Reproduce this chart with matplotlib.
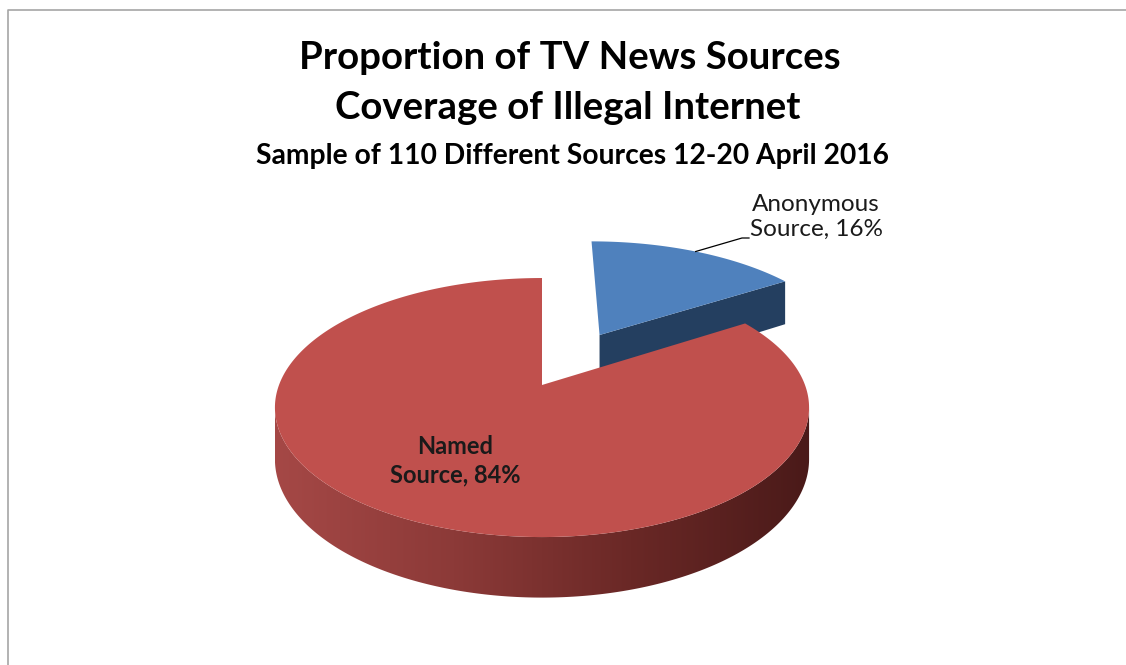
import matplotlib.pyplot as plt
import numpy as np
from matplotlib.patches import Polygon
from matplotlib.colors import LinearSegmentedColormap

plt.rcParams['font.family'] = ['Lato', 'DejaVu Sans']

# data
slice_names = ['Anonymous\nSource', 'Named\nSource']
slice_values = [16, 84]
slice_explode = [0.488, 0.0]
top_colors = ['#4F81BD', '#C0504D']
cut_colors = ['#243F60', '#7A2E2C']
side_ramp = ['#A54846', '#8C3A38', '#6A2826', '#4A1A19']

title_lines = ['Proportion of TV News Sources', 'Coverage of Illegal Internet']
subtitle = 'Sample of 110 Different Sources 12-20 April 2016'

# disc placement on the page (pixels) with a little perspective
cx, cy = 542, 385
A, B = 263, 125.6
k = 0.174
D = 50


def proj(u, v, drop=0.0):
    w = 1 + k * v
    return cx + A * u / w, cy - B * v / w + drop / w


fig = plt.figure(figsize=(11.26, 6.65), dpi=100)
ax = fig.add_axes([0, 0, 1, 1])
ax.set_axis_off()

# start at 12 o'clock and go clockwise
total = float(sum(slice_values))
bounds = []
end = 90.0
for val in slice_values:
    start = end - 360.0 * val / total
    bounds.append((start, end))
    end = start

# angles where the rim turns from front to back (silhouette)
tt = np.radians(np.linspace(0, 360, 3601))
xs, _ = proj(np.cos(tt), np.sin(tt))
deg = np.degrees(tt)
left_mask = (deg > 90) & (deg < 270)
th_left = deg[left_mask][np.argmin(xs[left_mask])]
right_mask = (deg > 270) | (deg < 90)
dr = deg[right_mask]
th_right = dr[np.argmax(xs[right_mask])]
if th_right < 90:
    th_right += 360

offsets = []
for (t0, t1), e in zip(bounds, slice_explode):
    mid = np.radians((t0 + t1) / 2)
    offsets.append((e * np.cos(mid), e * np.sin(mid)))

side_cmap = LinearSegmentedColormap.from_list('side', side_ramp)

# back slices first
order = sorted(range(len(slice_values)),
               key=lambda i: -np.sin(np.radians(sum(bounds[i]) / 2)))

for i in order:
    t0, t1 = bounds[i]
    ou, ov = offsets[i]

    # flat cut faces that look toward the viewer
    for t, normal in ((t0, t0 - 90), (t1, t1 + 90)):
        if np.sin(np.radians(normal)) < -0.01:
            r = np.radians(t)
            pu = [ou, ou + np.cos(r), ou + np.cos(r), ou]
            pv = [ov, ov + np.sin(r), ov + np.sin(r), ov]
            drops = [0, 0, D, D]
            pts = [proj(u, v, d) for u, v, d in zip(pu, pv, drops)]
            ax.add_patch(Polygon(pts, closed=True, facecolor=cut_colors[i],
                                 edgecolor='none', zorder=2))

    # curved outer wall
    lo = t0 % 360
    hi = lo + (t1 - t0)
    for shift in (-360, 0, 360):
        a0 = max(lo + shift, th_left)
        a1 = min(hi + shift, th_right)
        if a1 > a0:
            ang = np.radians(np.linspace(a0, a1, 300))
            u = ou + np.cos(ang)
            v = ov + np.sin(ang)
            xt, yt = proj(u, v)
            xb, yb = proj(u, v, D)
            pts = np.column_stack([np.concatenate([xt, xb[::-1]]),
                                   np.concatenate([yt, yb[::-1]])])
            wall = Polygon(pts, closed=True, facecolor='none',
                           edgecolor='none', zorder=2)
            ax.add_patch(wall)
            grad = np.linspace(0, 1, 256).reshape(1, -1)
            img = ax.imshow(grad, cmap=side_cmap, aspect='auto',
                            extent=(pts[:, 0].min(), pts[:, 0].max(),
                                    pts[:, 1].max(), pts[:, 1].min()),
                            zorder=2)
            img.set_clip_path(wall)

    # top face
    ang = np.radians(np.linspace(t0, t1, 300))
    u = np.concatenate([[ou], ou + np.cos(ang)])
    v = np.concatenate([[ov], ov + np.sin(ang)])
    xt, yt = proj(u, v)
    ax.add_patch(Polygon(np.column_stack([xt, yt]), closed=True,
                         facecolor=top_colors[i], edgecolor='none', zorder=3))

# data labels
pct = [f'{n}, {round(100 * v / total):.0f}%' for n, v in zip(slice_names, slice_values)]

# named slice: label on the face
mid = np.radians(sum(bounds[1]) / 2)
lx, ly = proj(offsets[1][0] + 0.62 * np.cos(mid), offsets[1][1] + 0.62 * np.sin(mid))
ax.text(lx, ly, pct[1], ha='center', va='center', fontsize=17,
        fontweight='bold', color='#1a1a1a', linespacing=1.3, zorder=5)

# anonymous slice: label outside with a leader line
mid = np.radians(sum(bounds[0]) / 2)
rx, ry = proj(offsets[0][0] + np.cos(mid), offsets[0][1] + np.sin(mid))
ax.plot([rx, 742, 749], [ry, 238, 238], color='black', lw=0.9, zorder=5)
ax.text(816, 217, pct[0], ha='center', va='center', fontsize=17.5,
        color='#1a1a1a', linespacing=1.25, zorder=5)

# titles
ax.text(570, 58, title_lines[0], ha='center', va='center', fontsize=27.6,
        fontweight='bold')
ax.text(568, 108, title_lines[1], ha='center', va='center', fontsize=27.6,
        fontweight='bold')
ax.text(572, 156, subtitle, ha='center', va='center', fontsize=20.3,
        fontweight='bold')

# chart frame
ax.plot([8, 8, 1126], [665, 10, 10], color='#A6A6A6', lw=1.2, zorder=1)

ax.set_xlim(0, 1126)
ax.set_ylim(665, 0)
fig.savefig('out.png', dpi=100)
